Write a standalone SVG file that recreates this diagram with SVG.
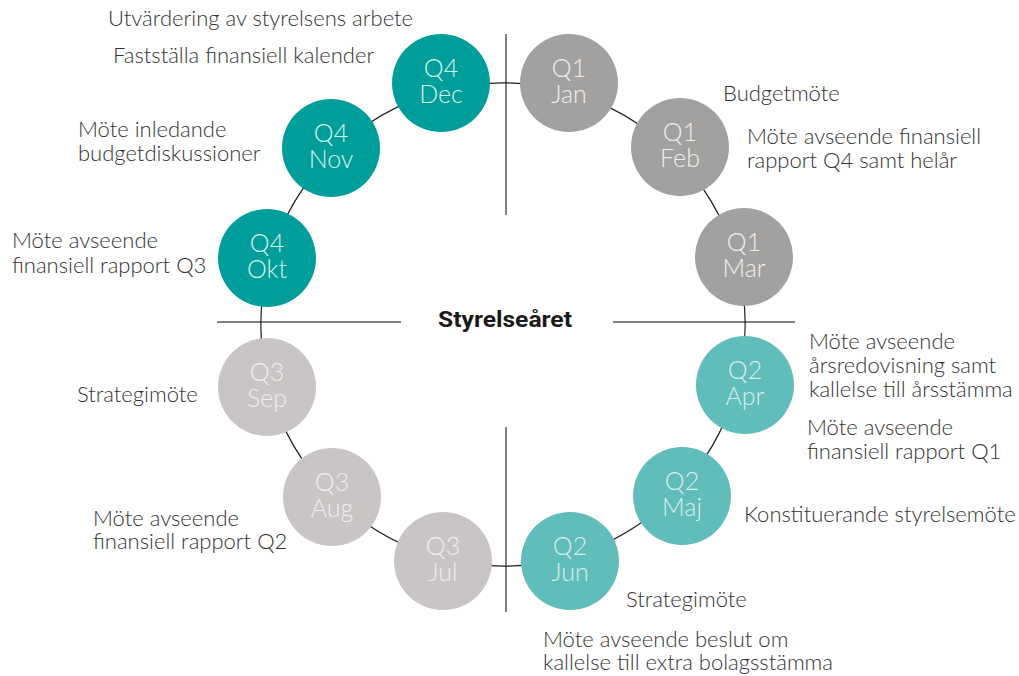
<svg xmlns="http://www.w3.org/2000/svg" width="1019" height="676" viewBox="0 0 1019 676">
<style>
.node-q4{fill:#009e9a}
.node-q1{fill:#a3a19f}
.node-q2{fill:#61bdb9}
.node-q3{fill:#c8c5c4}
.nt{font-family:Lato,Roboto,"Liberation Sans",sans-serif;font-weight:300;font-size:25px;text-anchor:middle}
.nt-teal{fill:#d6f0ee}
.nt-gray{fill:#eeeeee}
.lbl{font-family:Lato,Roboto,"Liberation Sans",sans-serif;font-weight:300;font-size:22px;fill:#333333}
.div{stroke:#555;stroke-width:1.5;fill:none}
.con{stroke:#1e1e1e;stroke-width:1.2;fill:none}
.title{font-family:Roboto,"Liberation Sans",sans-serif;font-weight:700;font-size:22px;fill:#1a1a1a;text-anchor:middle}
</style>
<rect width="1019" height="676" fill="#ffffff"/>
<g id="dividers">
<line class="div" x1="506" y1="34" x2="506" y2="215"/>
<line class="div" x1="506" y1="427" x2="506" y2="612"/>
<line class="div" x1="217" y1="322" x2="401" y2="322"/>
<line class="div" x1="613" y1="322" x2="795" y2="322"/>
</g>
<g id="connectors">
<path class="con" d="M565.5 91.2 A241.5 241.5 0 0 1 673.8 153.7"/>
<path class="con" d="M673.8 153.7 A241.5 241.5 0 0 1 736.8 262"/>
<path class="con" d="M736.8 262 A241.5 241.5 0 0 1 736.8 387"/>
<path class="con" d="M736.8 387 A241.5 241.5 0 0 1 673.8 495.3"/>
<path class="con" d="M673.8 495.3 A241.5 241.5 0 0 1 565.5 557.8"/>
<path class="con" d="M565.5 557.8 A241.5 241.5 0 0 1 440.5 557.8"/>
<path class="con" d="M440.5 557.8 A241.5 241.5 0 0 1 332.2 495.3"/>
<path class="con" d="M332.2 495.3 A241.5 241.5 0 0 1 269.2 387"/>
<path class="con" d="M269.2 387 A241.5 241.5 0 0 1 269.2 262"/>
<path class="con" d="M269.2 262 A241.5 241.5 0 0 1 332.2 153.7"/>
<path class="con" d="M332.2 153.7 A241.5 241.5 0 0 1 440.5 91.2"/>
<path class="con" d="M440.5 91.2 A241.5 241.5 0 0 1 565.5 91.2"/>
</g>
<g id="node-jan"><circle class="node-q1" cx="569" cy="83" r="49"/><text class="nt nt-gray"><tspan x="569" y="77">Q1</tspan><tspan x="569" y="103">Jan</tspan></text></g>
<g id="node-feb"><circle class="node-q1" cx="680" cy="147" r="49"/><text class="nt nt-gray"><tspan x="680" y="141">Q1</tspan><tspan x="680" y="167">Feb</tspan></text></g>
<g id="node-mar"><circle class="node-q1" cx="744" cy="257" r="49"/><text class="nt nt-gray"><tspan x="744" y="251">Q1</tspan><tspan x="744" y="277">Mar</tspan></text></g>
<g id="node-apr"><circle class="node-q2" cx="745" cy="385" r="49"/><text class="nt nt-teal"><tspan x="745" y="379">Q2</tspan><tspan x="745" y="405">Apr</tspan></text></g>
<g id="node-maj"><circle class="node-q2" cx="682" cy="496" r="49"/><text class="nt nt-teal"><tspan x="682" y="490">Q2</tspan><tspan x="682" y="516">Maj</tspan></text></g>
<g id="node-jun"><circle class="node-q2" cx="570" cy="561" r="49"/><text class="nt nt-teal"><tspan x="570" y="555">Q2</tspan><tspan x="570" y="581">Jun</tspan></text></g>
<g id="node-jul"><circle class="node-q3" cx="443" cy="561" r="49"/><text class="nt nt-gray"><tspan x="443" y="555">Q3</tspan><tspan x="443" y="581">Jul</tspan></text></g>
<g id="node-aug"><circle class="node-q3" cx="332" cy="497" r="49"/><text class="nt nt-gray"><tspan x="332" y="491">Q3</tspan><tspan x="332" y="517">Aug</tspan></text></g>
<g id="node-sep"><circle class="node-q3" cx="267" cy="387" r="49"/><text class="nt nt-gray"><tspan x="267" y="381">Q3</tspan><tspan x="267" y="407">Sep</tspan></text></g>
<g id="node-okt"><circle class="node-q4" cx="267" cy="258" r="49"/><text class="nt nt-teal"><tspan x="267" y="252">Q4</tspan><tspan x="267" y="278">Okt</tspan></text></g>
<g id="node-nov"><circle class="node-q4" cx="331" cy="148" r="49"/><text class="nt nt-teal"><tspan x="331" y="142">Q4</tspan><tspan x="331" y="168">Nov</tspan></text></g>
<g id="node-dec"><circle class="node-q4" cx="441" cy="83" r="49"/><text class="nt nt-teal"><tspan x="441" y="77">Q4</tspan><tspan x="441" y="103">Dec</tspan></text></g>
<g id="center-title"><text class="title" x="505" y="327" textLength="134" lengthAdjust="spacingAndGlyphs">Styrelseåret</text></g>
<g id="labels">
<text class="lbl" x="108" y="26">Utvärdering av styrelsens arbete</text>
<text class="lbl" x="113" y="63">Fastställa finansiell kalender</text>
<text class="lbl"><tspan x="78" y="137">Möte inledande</tspan><tspan x="78" y="161">budgetdiskussioner</tspan></text>
<text class="lbl" x="723" y="101">Budgetmöte</text>
<text class="lbl"><tspan x="747" y="144">Möte avseende finansiell</tspan><tspan x="747" y="168">rapport Q4 samt helår</tspan></text>
<text class="lbl"><tspan x="809" y="349">Möte avseende</tspan><tspan x="809" y="373">årsredovisning samt</tspan><tspan x="809" y="397">kallelse till årsstämma</tspan></text>
<text class="lbl"><tspan x="807" y="435">Möte avseende</tspan><tspan x="807" y="459">finansiell rapport Q1</tspan></text>
<text class="lbl" x="744" y="522">Konstituerande styrelsemöte</text>
<text class="lbl" x="626" y="607">Strategimöte</text>
<text class="lbl"><tspan x="543" y="647">Möte avseende beslut om</tspan><tspan x="543" y="670">kallelse till extra bolagsstämma</tspan></text>
<text class="lbl"><tspan x="12" y="248">Möte avseende</tspan><tspan x="12" y="273">finansiell rapport Q3</tspan></text>
<text class="lbl" x="77" y="402">Strategimöte</text>
<text class="lbl"><tspan x="93" y="526">Möte avseende</tspan><tspan x="93" y="549">finansiell rapport Q2</tspan></text>
</g>
</svg>
